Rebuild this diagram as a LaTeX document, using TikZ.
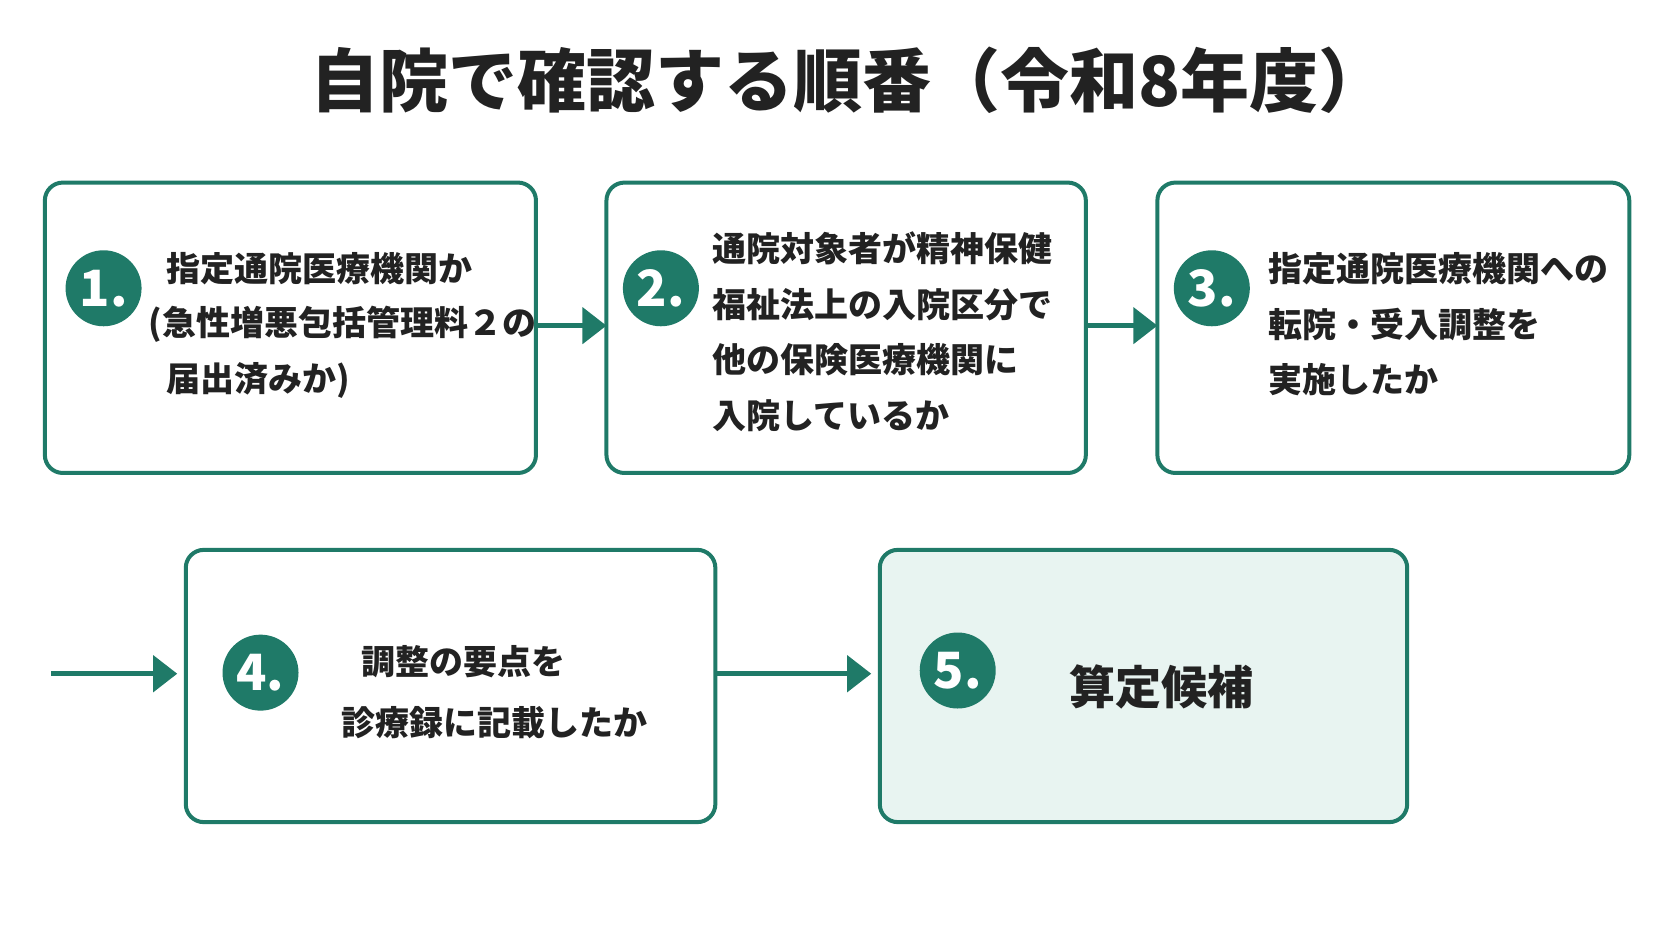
\documentclass[tikz,border=0pt]{standalone}
\usepackage{fontspec}
\setmainfont{Noto Sans CJK JP}
\usetikzlibrary{arrows.meta}
\definecolor{grn}{HTML}{1F7A68}
\definecolor{mint}{HTML}{E8F4F1}
\definecolor{ink}{HTML}{222222}
\begin{document}
\begin{tikzpicture}[x=1.0677pt,y=-1.0677pt,
 box/.style={draw=grn,line width=4pt,rounded corners=18pt,fill=white},
 num/.style={circle,fill=grn,text=white,minimum size=76pt,inner sep=0pt,font=\fontsize{50}{50}\selectfont\bfseries},
 txt/.style={anchor=west,text=ink,font=\fontsize{34}{34}\selectfont\bfseries},
 arr/.style={draw=grn,line width=4.5pt,-{Triangle[length=24pt,width=36pt]}}]
\useasboundingbox (0,0) rectangle (1566,881);
\node[text=ink,font=\fontsize{69}{69}\selectfont\bfseries] (title) at (795,75) {自院で確認する順番（令和8年度）};
\draw[box] (42,171) rectangle (502,443);
\draw[box] (568,171) rectangle (1017,443);
\draw[box] (1084,171) rectangle (1526,443);
\draw[box] (174,515) rectangle (670,770);
\draw[box,fill=mint] (824,515) rectangle (1318,770);
\coordinate (b1) at (502,305); \coordinate (b2l) at (568,305);
\coordinate (b2) at (1017,305); \coordinate (b3l) at (1084,305);
\coordinate (s4) at (48,631); \coordinate (b4l) at (166,631);
\coordinate (b4) at (670,631); \coordinate (b5l) at (816,631);
\draw[arr] (b1) -- (b2l);
\draw[arr] (b2) -- (b3l);
\draw[arr] (s4) -- (b4l);
\draw[arr] (b4) -- (b5l);
\node[num] (n1) at (97,270) {1.};
\node[num] (n2) at (619,270) {2.};
\node[num] (n3) at (1135,270) {3.};
\node[num] (n4) at (244,630) {4.};
\node[num] (n5) at (897,628) {5.};
\node[txt] (t1a) at (153,252) {指定通院医療機関か};
\node[txt] (t1b) at (136,304) {(急性増悪包括管理料２の};
\node[txt] (t1c) at (153,356) {届出済みか)};
\node[txt] (t2a) at (664,233) {通院対象者が精神保健};
\node[txt] (t2b) at (664,285) {福祉法上の入院区分で};
\node[txt] (t2c) at (664,337) {他の保険医療機関に};
\node[txt] (t2d) at (664,389) {入院しているか};
\node[txt] (t3a) at (1185,252) {指定通院医療機関への};
\node[txt] (t3b) at (1185,304) {転院・受入調整を};
\node[txt] (t3c) at (1185,356) {実施したか};
\node[txt] (t4a) at (335,620) {調整の要点を};
\node[txt] (t4b) at (317,677) {診療録に記載したか};
\node[txt,font=\fontsize{46}{46}\selectfont\bfseries] (t5) at (998,643) {算定候補};
\end{tikzpicture}
\end{document}
